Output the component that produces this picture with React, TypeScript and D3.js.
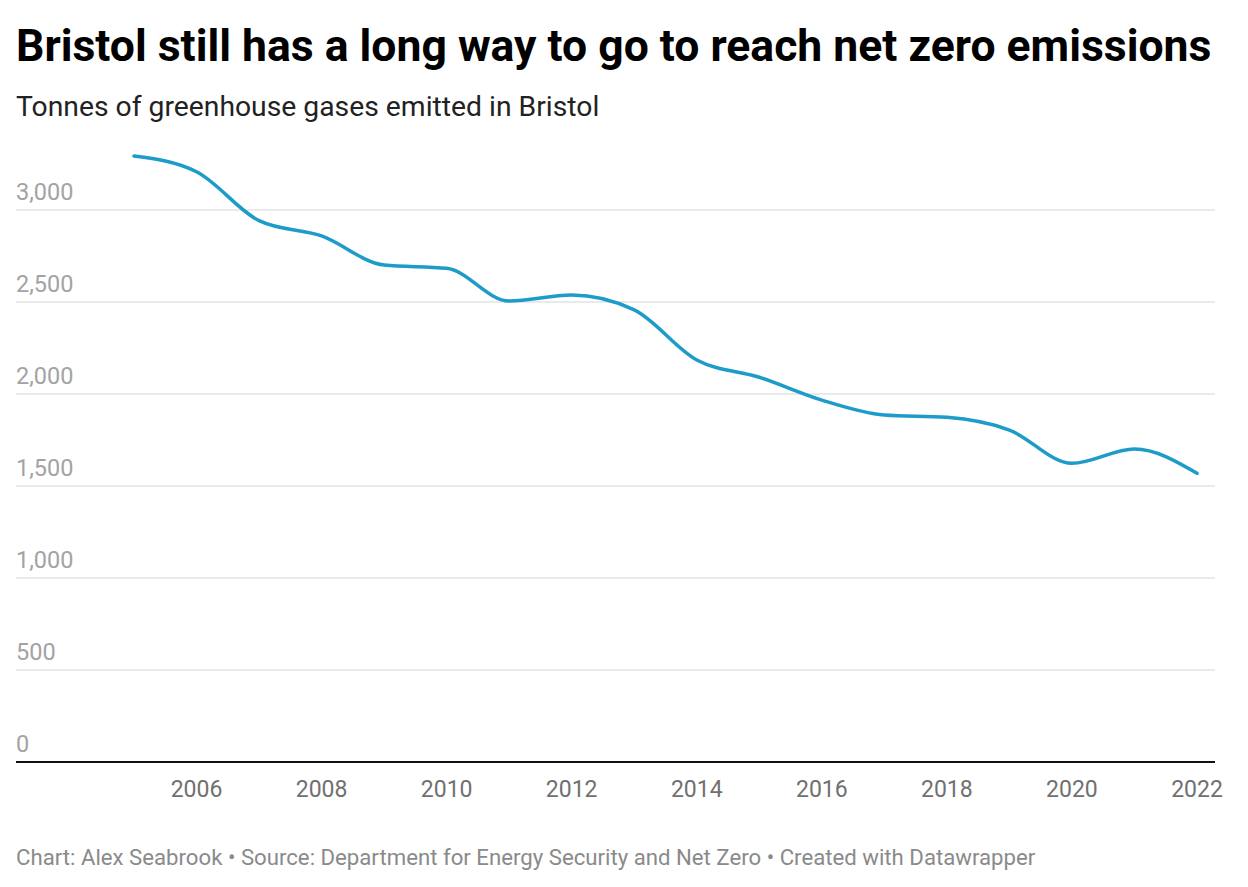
import React from "react";
import * as d3 from "d3";

const years = [2005, 2006, 2007, 2008, 2009, 2010, 2011, 2012, 2013, 2014, 2015, 2016, 2017, 2018, 2019, 2020, 2021, 2022];
const emissions = [3293, 3208, 2942, 2859, 2701, 2683, 2505, 2538, 2457, 2185, 2091, 1967, 1886, 1873, 1804, 1623, 1701, 1569];
const yTicks = [0, 500, 1000, 1500, 2000, 2500, 3000];
const xTicks = [2006, 2008, 2010, 2012, 2014, 2016, 2018, 2020, 2022];

const title = "Bristol still has a long way to go to reach net zero emissions";
const subtitle = "Tonnes of greenhouse gases emitted in Bristol";
const footer = "Chart: Alex Seabrook • Source: Department for Energy Security and Net Zero • Created with Datawrapper";

export default function App() {
  const W = 1248, H = 887;
  const left = 16, right = 1215;
  const x = d3.scaleLinear().domain([2005, 2022]).range([134, 1197]);
  const y = d3.scaleLinear().domain([0, 3000]).range([762, 210]);
  const pts = years.map((yr, i) => [yr, emissions[i]] as [number, number]);
  const line = d3.line<[number, number]>().x(d => x(d[0])).y(d => y(d[1])).curve(d3.curveMonotoneX);
  const fmt = d3.format(",");
  return (
    <svg width={W} height={H} style={{ position: "absolute", left: 0, top: 0, background: "#fff" }} fontFamily="Roboto, sans-serif">
      <text x={left} y={61} fontSize={44.5} fontWeight={700} fill="#000">{title}</text>
      <text x={left} y={116} fontSize={28.3} fill="#222">{subtitle}</text>
      {yTicks.map(t => (
        <g key={t}>
          {t > 0 && <line x1={left} x2={right} y1={y(t)} y2={y(t)} stroke="#e3e3e3" strokeWidth={1.5} />}
          <text x={left} y={y(t) - 10} fontSize={23.5} fill="#a3a3a3">{fmt(t)}</text>
        </g>
      ))}
      <line x1={left} x2={right} y1={y(0)} y2={y(0)} stroke="#111" strokeWidth={2} />
      {xTicks.map(t => (
        <text key={t} x={x(t)} y={797} fontSize={23} fill="#707070" textAnchor="middle">{t}</text>
      ))}
      <path d={line(pts) || ""} fill="none" stroke="#1d9cc9" strokeWidth={3.5} strokeLinecap="round" strokeLinejoin="round" />
      <text x={left} y={865} fontSize={22.2} fill="#8a8a8a">{footer}</text>
    </svg>
  );
}
